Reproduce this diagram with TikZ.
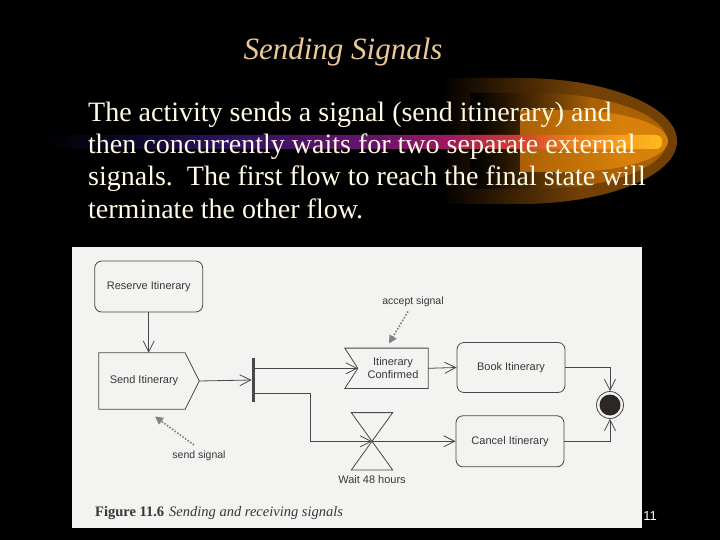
\documentclass[tikz,border=0pt]{standalone}
\usepackage{fontspec}
\setmainfont{Liberation Serif}
\setsansfont{Liberation Sans}
\usetikzlibrary{arrows.meta}
\definecolor{titlec}{RGB}{235,200,150}
\definecolor{bodyc}{RGB}{255,250,228}
\definecolor{figbg}{RGB}{243,243,241}
\definecolor{ink}{RGB}{72,72,72}
\definecolor{txt}{RGB}{55,55,55}
\definecolor{anno}{RGB}{130,130,130}
\definecolor{finalc}{RGB}{45,38,38}
\definecolor{glowA}{RGB}{115,65,5}
\definecolor{glowB}{RGB}{170,96,5}
\definecolor{glowC}{RGB}{215,128,10}
\definecolor{barA}{RGB}{12,8,40}
\definecolor{barB}{RGB}{45,18,100}
\definecolor{barC}{RGB}{105,20,108}
\definecolor{barD}{RGB}{158,25,95}
\definecolor{barE}{RGB}{205,55,55}
\definecolor{barF}{RGB}{238,125,25}
\definecolor{barG}{RGB}{255,185,30}
\tikzset{
  activity/.style={draw=ink, line width=0.8pt, rounded corners=7pt, text=txt, font=\sffamily\fontsize{11}{13}\selectfont},
  plainbox/.style={text=txt, font=\sffamily\fontsize{11}{13}\selectfont, inner sep=0pt},
  shapeline/.style={draw=ink, line width=0.8pt},
  arr/.style={draw=ink, line width=0.8pt, -{Straight Barb[length=11pt,width=11pt,line width=0.8pt]}},
  annoarr/.style={draw=anno, line width=1.6pt, dash pattern=on 1.6pt off 1.6pt, -{Triangle[length=8pt,width=8pt]}},
  annotext/.style={text=txt, font=\sffamily\fontsize{10.5}{12}\selectfont},
  bodyline/.style={anchor=base west, text=bodyc, inner sep=0pt, font=\fontsize{28}{30}\selectfont},
}
\begin{document}
\begin{tikzpicture}[x=1pt,y=-1pt]
\fill[black] (0,0) rectangle (720,540);
\useasboundingbox (0,0) rectangle (720,540);
% glow decoration, built from thin slices
\begin{scope}
  \clip (430,78) -- (520,78) arc[start angle=-90,end angle=90,x radius=157,y radius=63] -- (430,204) -- cycle;
  \foreach \i in {0,...,49} {
    \pgfmathtruncatemacro\p{\i*2}
    \fill[glowA!\p!black] (440+\i*2.8,70) rectangle (440+\i*2.8+3.3,210);
  }
  \fill[glowA] (580,70) rectangle (690,210);
\end{scope}
\begin{scope}
  \clip (455,93) -- (535,93) arc[start angle=-90,end angle=90,x radius=132,y radius=48] -- (455,189) -- cycle;
  \foreach \i in {0,...,49} {
    \pgfmathtruncatemacro\p{\i*2}
    \fill[glowB!\p!glowA!\p!black] (470+\i*2.4,85) rectangle (470+\i*2.4+2.9,195);
  }
  \fill[glowB] (590,85) rectangle (690,195);
\end{scope}
\begin{scope}
  \clip (500,110) -- (565,110) arc[start angle=-90,end angle=90,x radius=103,y radius=31] -- (500,172) -- cycle;
  \foreach \i in {0,...,49} {
    \pgfmathtruncatemacro\p{\i*2}
    \fill[glowC!\p!glowB] (520+\i*2.0,100) rectangle (520+\i*2.0+2.5,180);
  }
  \fill[glowC] (620,100) rectangle (690,180);
\end{scope}
% comet bar
\begin{scope}
  \clip[rounded corners=6pt] (40,135) rectangle (662,149);
  \foreach \xa/\xb/\ca/\cb in {40/130/black/barA, 130/226/barA/barB, 226/375/barB/barC, 375/449/barC/barD, 449/511/barD/barE, 511/573/barE/barF, 573/662/barF/barG} {
    \foreach \k in {0,...,14} {
      \pgfmathtruncatemacro\t{\k*100/14}
      \fill[\cb!\t!\ca] (\xa+\k*\xb/15-\k*\xa/15,130) rectangle (\xa+\k*\xb/15-\k*\xa/15+\xb/15-\xa/15+0.6,155);
    }
  }
\end{scope}
% title and body
\node[anchor=base, text=titlec, inner sep=0pt, font=\fontsize{31}{31}\selectfont\itshape] (title) at (343,60) {Sending Signals};
\node[bodyline] (l1) at (88,121.5) {The activity sends a signal (send itinerary) and};
\node[bodyline] (l2) at (88,153.5) {then concurrently waits for two separate external};
\node[bodyline] (l3) at (88,186) {signals.\ \ The first flow to reach the final state will};
\node[bodyline] (l4) at (88,218.5) {terminate the other flow.};
% figure
\fill[figbg] (72,247) rectangle (642,528);
\node[activity, minimum width=108pt, minimum height=51pt] (reserve) at (148.7,286.5) {Reserve Itinerary};
\node[plainbox, minimum width=86pt, minimum height=56pt] (send) at (142,381) {\hspace*{4pt}Send Itinerary};
\coordinate (sendtip) at ([xshift=14pt]send.east);
\draw[shapeline] (send.north west) -- (send.north east) -- (sendtip) -- (send.south east) -- (send.south west) -- cycle;
\node[fill=ink, minimum width=3pt, minimum height=44pt, inner sep=0pt] (fork) at (253.3,380) {};
\node[plainbox, align=center, minimum width=70pt, minimum height=40pt] (confirmed) at (393,368.3) {Itinerary\\Confirmed};
\draw[shapeline] ([xshift=-13pt]confirmed.north west) -- (confirmed.north east) -- (confirmed.south east) -- ([xshift=-13pt]confirmed.south west) -- (confirmed.west) -- cycle;
\node[activity, minimum width=108pt, minimum height=50pt] (book) at (511,367.5) {Book Itinerary};
\node[activity, minimum width=108pt, minimum height=51pt] (cancel) at (510,441.3) {Cancel Itinerary};
\node[minimum width=41pt, minimum height=57pt, inner sep=0pt] (wait) at (372,441.3) {};
\draw[shapeline] (wait.north west) -- (wait.north east) -- (wait.south west) -- (wait.south east) -- cycle;
\node[plainbox, anchor=north] (waitlabel) at (372,475.5) {Wait 48 hours};
\node[circle, draw=ink, line width=0.8pt, fill=figbg, minimum size=27pt, inner sep=0pt] (final) at (610,405) {};
\fill[finalc] (final.center) circle[radius=10.5];
% connectors
\draw[arr] (reserve.south) -- (reserve.south |- send.north);
\draw[arr] (sendtip) -- (fork.west);
\draw[arr] (fork.east |- confirmed.west) -- (confirmed.west);
\coordinate (elbow) at (310,441.3);
\draw[arr] ([yshift=-13pt]fork.east) -| (elbow) -- (wait.center);
\draw[arr] (confirmed.east) -- (book.west);
\draw[arr] (wait.center) -- (cancel.west);
\draw[arr] (book.east) -| (final.north);
\draw[arr] (cancel.east) -| (final.south);
% annotations
\node[annotext] (accept) at (413,301.5) {accept signal};
\coordinate (acceptA) at (408,311.5);
\coordinate (acceptB) at (389,343.5);
\draw[annoarr] (acceptA) -- (acceptB);
\node[annotext] (sendsig) at (199,456) {send signal};
\coordinate (sendA) at (194,445);
\coordinate (sendB) at (155,416.5);
\draw[annoarr] (sendA) -- (sendB);
% caption
\node[anchor=base west, inner sep=0pt, text=txt, font=\fontsize{14.5}{16}\selectfont] (caption) at (95,516) {\textbf{Figure 11.6}\hspace{5pt}\textit{Sending and receiving signals}};
\node[anchor=base, inner sep=0pt, text=white, font=\sffamily\fontsize{13}{14}\selectfont] (pagenum) at (650,520) {11};
\end{tikzpicture}
\end{document}
